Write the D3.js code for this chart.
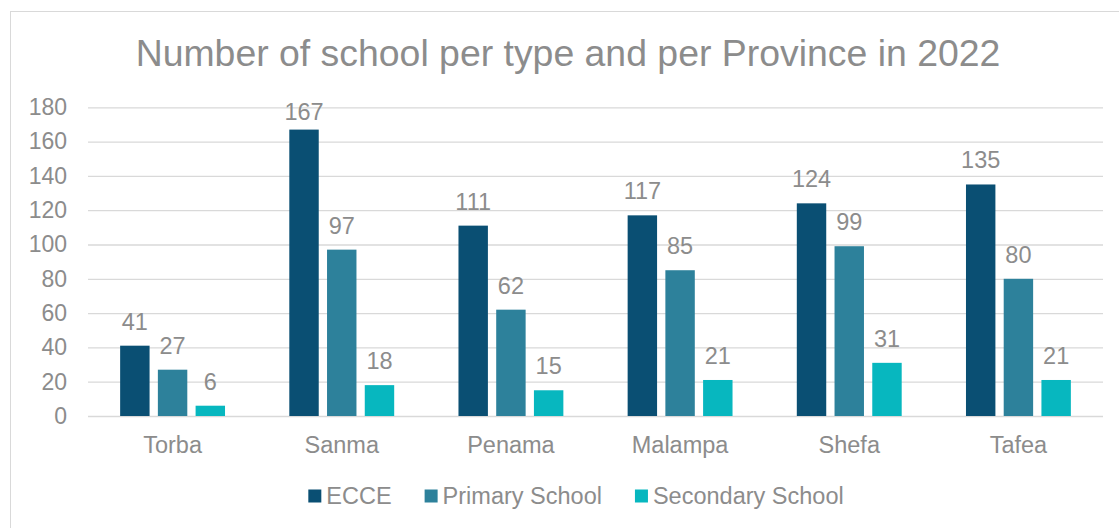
<!DOCTYPE html>
<html>
<head>
<meta charset="utf-8">
<script src="https://cdn.jsdelivr.net/npm/d3@7"></script>
<style>
  html, body { margin: 0; padding: 0; background: #fff; }
  svg { display: block; }
  text { font-family: "Liberation Sans", Arial, sans-serif; fill: #8c8c8c; }
</style>
</head>
<body>
<svg id="chart" width="1119" height="528"></svg>
<script>
const provinces = ["Torba", "Sanma", "Penama", "Malampa", "Shefa", "Tafea"];
const seriesNames = ["ECCE", "Primary School", "Secondary School"];
const ecce = [41, 167, 111, 117, 124, 135];
const primary = [27, 97, 62, 85, 99, 80];
const secondary = [6, 18, 15, 21, 31, 21];
const yTicks = [0, 20, 40, 60, 80, 100, 120, 140, 160, 180];
const titleText = "Number of school per type and per Province in 2022";

const seriesValues = [ecce, primary, secondary];
const colors = ["#0a4f73", "#2d819b", "#07b7bf"];

const svg = d3.select("#chart");
const W = 1119, H = 528;
const plot = { left: 88, right: 1103, top: 107.3, bottom: 416 };

// chart frame
svg.append("rect")
  .attr("x", 10.5).attr("y", 11.5)
  .attr("width", W + 20).attr("height", H + 20)
  .attr("fill", "#fff").attr("stroke", "#d9d9d9").attr("stroke-width", 1);

// title
svg.append("text")
  .attr("x", 568).attr("y", 66)
  .attr("text-anchor", "middle")
  .style("font-size", "37.4px")
  .text(titleText);

const x = d3.scaleBand()
  .domain(provinces)
  .range([plot.left, plot.right])
  .paddingInner(0.38)
  .paddingOuter(0.19);

const xSub = d3.scaleBand()
  .domain(seriesNames)
  .range([0, x.bandwidth()])
  .paddingInner(0.22);

const y = d3.scaleLinear()
  .domain([0, 180])
  .range([plot.bottom, plot.top]);

// gridlines + y tick labels
const yAxis = d3.axisLeft(y)
  .tickValues(yTicks)
  .tickSize(-(plot.right - plot.left))
  .tickPadding(21)
  .tickFormat(d3.format("d"));

const gy = svg.append("g")
  .attr("transform", `translate(${plot.left},0)`)
  .call(yAxis);
gy.select(".domain").remove();
gy.selectAll(".tick line").attr("stroke", "#d9d9d9").attr("stroke-width", 1.3);
gy.selectAll(".tick text")
  .style("font-size", "23px")
  .attr("fill", "#8c8c8c");

// x category labels
const xAxis = d3.axisBottom(x).tickSize(0).tickPadding(20);
const gx = svg.append("g")
  .attr("transform", `translate(0,${plot.bottom})`)
  .call(xAxis);
gx.select(".domain").remove();
gx.selectAll(".tick text")
  .style("font-size", "23.5px")
  .attr("fill", "#8c8c8c");

// bars and value labels
const rows = provinces.map((p, i) => ({
  province: p,
  values: seriesNames.map((s, j) => ({ series: s, idx: j, value: seriesValues[j][i] }))
}));

const groups = svg.append("g").selectAll("g")
  .data(rows)
  .join("g")
  .attr("transform", d => `translate(${x(d.province)},0)`);

groups.selectAll("rect")
  .data(d => d.values)
  .join("rect")
  .attr("x", d => xSub(d.series))
  .attr("y", d => y(d.value))
  .attr("width", xSub.bandwidth())
  .attr("height", d => y(0) - y(d.value))
  .attr("fill", d => colors[d.idx]);

// value labels sit above each bar, kept from running past the top of the chart area
const labelTopLimit = 120;
groups.selectAll("text")
  .data(d => d.values)
  .join("text")
  .attr("x", d => xSub(d.series) + xSub.bandwidth() / 2)
  .attr("y", d => Math.max(y(d.value) - 16, labelTopLimit))
  .attr("text-anchor", "middle")
  .style("font-size", "23.5px")
  .text(d => d.value);

// legend
const legend = svg.append("g");
const items = legend.selectAll("g")
  .data(seriesNames)
  .join("g");
items.append("rect")
  .attr("width", 13).attr("height", 13)
  .attr("y", 489.5)
  .attr("fill", (d, i) => colors[i]);
items.append("text")
  .attr("x", 18)
  .attr("y", 504)
  .style("font-size", "23.5px")
  .text(d => d);

let cursor = 0;
const offsets = [];
items.each(function () {
  const w = this.querySelector("text").getComputedTextLength();
  offsets.push(cursor);
  cursor += 18 + w + 33;
});
const totalW = cursor - 33;
const startX = 576 - totalW / 2;
items.attr("transform", (d, i) => `translate(${startX + offsets[i]},0)`);
</script>
</body>
</html>
